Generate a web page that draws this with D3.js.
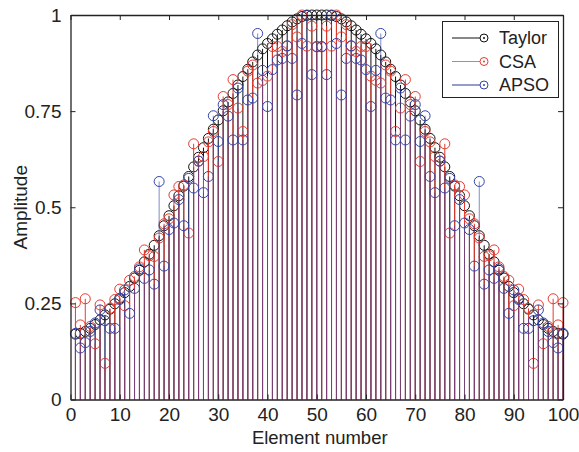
<!DOCTYPE html>
<html>
<head>
<meta charset="utf-8">
<script src="https://cdn.jsdelivr.net/npm/d3@7"></script>
<style>
  html, body { margin: 0; padding: 0; background: #fff; }
  text { font-family: Arial, "Liberation Sans", Helvetica, sans-serif; fill: #222; }
</style>
</head>
<body>
<svg id="chart" width="579" height="452"></svg>
<script>
// ---- data ----
const elements = d3.range(1, 101);
const xTicks = [0, 10, 20, 30, 40, 50, 60, 70, 80, 90, 100];
const yTicks = [0, 0.25, 0.5, 0.75, 1];
const yTickLabels = ["0", "0.25", "0.5", "0.75", "1"];
const seriesNames = ["Taylor", "CSA", "APSO"];

const taylor = [
  0.170,0.172,0.177,0.185,0.195,0.207,0.220,0.235,0.249,0.263,
  0.278,0.294,0.316,0.336,0.358,0.378,0.401,0.426,0.452,0.478,
  0.504,0.530,0.555,0.580,0.605,0.630,0.655,0.679,0.703,0.727,
  0.751,0.774,0.796,0.818,0.840,0.859,0.878,0.896,0.912,0.926,
  0.938,0.950,0.961,0.972,0.982,0.990,0.996,0.999,1.000,1.000,
  1.000,1.000,0.999,0.996,0.990,0.982,0.972,0.961,0.950,0.938,
  0.926,0.912,0.896,0.878,0.859,0.840,0.818,0.796,0.774,0.751,
  0.727,0.703,0.679,0.655,0.630,0.605,0.580,0.555,0.530,0.504,
  0.478,0.452,0.426,0.401,0.378,0.358,0.336,0.316,0.294,0.278,
  0.263,0.249,0.235,0.220,0.207,0.195,0.185,0.177,0.172,0.170
];

const csa = [
  0.252,0.194,0.262,0.190,0.145,0.246,0.094,0.237,0.260,0.287,
  0.244,0.310,0.320,0.345,0.389,0.374,0.372,0.420,0.457,0.470,
  0.532,0.554,0.558,0.433,0.665,0.620,0.632,0.670,0.697,0.619,
  0.788,0.767,0.832,0.758,0.697,0.854,0.870,0.823,0.830,0.841,
  0.918,0.918,0.905,0.919,0.975,0.943,1.000,0.919,0.971,0.917,
  0.917,0.971,0.919,1.000,0.943,0.975,0.919,0.905,0.918,0.918,
  0.841,0.830,0.823,0.870,0.854,0.697,0.758,0.832,0.767,0.788,
  0.619,0.697,0.670,0.632,0.620,0.665,0.433,0.558,0.554,0.532,
  0.470,0.457,0.420,0.372,0.374,0.389,0.345,0.320,0.310,0.244,
  0.287,0.260,0.237,0.094,0.246,0.145,0.190,0.262,0.194,0.252
];

const apso = [
  0.172,0.134,0.148,0.177,0.199,0.233,0.205,0.185,0.185,0.260,
  0.285,0.224,0.289,0.340,0.315,0.337,0.300,0.567,0.347,0.442,
  0.459,0.520,0.452,0.575,0.550,0.620,0.538,0.580,0.738,0.671,
  0.767,0.737,0.675,0.810,0.675,0.779,0.784,0.952,0.856,0.762,
  0.858,0.883,0.887,0.920,0.887,0.792,0.926,1.000,0.845,0.918,
  0.918,0.845,1.000,0.926,0.792,0.887,0.920,0.887,0.883,0.858,
  0.762,0.856,0.952,0.784,0.779,0.675,0.810,0.675,0.737,0.767,
  0.671,0.738,0.580,0.538,0.620,0.550,0.575,0.452,0.520,0.459,
  0.442,0.347,0.567,0.300,0.337,0.315,0.340,0.289,0.224,0.285,
  0.260,0.185,0.185,0.205,0.233,0.199,0.177,0.148,0.134,0.172
];

const colors = { Taylor: "#111111", CSA: "#e53b30", APSO: "#3345a8" };
const legendLineColors = { Taylor: "#111111", CSA: "#f07070", APSO: "#2a3a95" };

// ---- layout ----
const svg = d3.select("#chart");
const L = 70.5, R = 563, T = 15, B = 399.5;
const FS = 19;
const x = d3.scaleLinear().domain([0, 100]).range([L, R]);
const y = d3.scaleLinear().domain([0, 1]).range([B, T]);

const series = [
  { name: "Taylor", values: taylor, stemOpacity: 1 },
  { name: "CSA", values: csa, stemOpacity: 1 },
  { name: "APSO", values: apso, stemOpacity: 0.62 }
];

const plot = svg.append("g");
series.forEach(s => {
  const g = plot.append("g");
  const data = elements.map((e, i) => ({ e, v: s.values[i] }));
  g.selectAll("line").data(data).join("line")
    .attr("x1", d => x(d.e)).attr("x2", d => x(d.e))
    .attr("y1", y(0)).attr("y2", d => y(d.v))
    .attr("stroke", colors[s.name]).attr("stroke-width", 1)
    .attr("stroke-opacity", s.stemOpacity);
  g.selectAll("circle").data(data).join("circle")
    .attr("cx", d => x(d.e)).attr("cy", d => y(d.v)).attr("r", 5)
    .attr("fill", "none").attr("stroke", colors[s.name]).attr("stroke-width", 1);
});

// ---- axes (box with inward ticks) ----
const axisColor = "#222";
const xAxisB = d3.axisBottom(x).tickValues(xTicks).tickSizeInner(-5).tickSizeOuter(0).tickPadding(8);
const xAxisT = d3.axisTop(x).tickValues(xTicks).tickSizeInner(-5).tickSizeOuter(0).tickFormat("");
const yAxisL = d3.axisLeft(y).tickValues(yTicks).tickSizeInner(-5).tickSizeOuter(0).tickPadding(9)
  .tickFormat((d, i) => yTickLabels[i]);
const yAxisR = d3.axisRight(y).tickValues(yTicks).tickSizeInner(-5).tickSizeOuter(0).tickFormat("");

function style(g) {
  g.select(".domain").attr("stroke", axisColor).attr("stroke-width", 1.3);
  g.selectAll(".tick line").attr("stroke", axisColor).attr("stroke-width", 1);
  g.selectAll(".tick text").attr("font-size", FS).attr("fill", "#222")
    .attr("font-family", "Arial, 'Liberation Sans', sans-serif");
}
svg.append("g").attr("transform", `translate(0,${B})`).call(xAxisB).call(style);
svg.append("g").attr("transform", `translate(0,${T})`).call(xAxisT).call(style);
svg.append("g").attr("transform", `translate(${L},0)`).call(yAxisL).call(style);
svg.append("g").attr("transform", `translate(${R},0)`).call(yAxisR).call(style);

// axis titles
svg.append("text").attr("x", (L + R) / 2 + 3).attr("y", 444)
  .attr("text-anchor", "middle").attr("font-size", 18.5).text("Element number");
svg.append("text").attr("transform", `translate(27,${(T + B) / 2}) rotate(-90)`)
  .attr("text-anchor", "middle").attr("font-size", FS).text("Amplitude");

// ---- legend ----
const lg = svg.append("g");
lg.append("rect").attr("x", 442.5).attr("y", 21.5).attr("width", 116).attr("height", 76)
  .attr("fill", "#fff").attr("stroke", "#222").attr("stroke-width", 1);
seriesNames.forEach((name, i) => {
  const yy = 38 + i * 23.5;
  lg.append("line").attr("x1", 452).attr("x2", 484).attr("y1", yy).attr("y2", yy)
    .attr("stroke", legendLineColors[name]).attr("stroke-width", 1);
  lg.append("circle").attr("cx", 484).attr("cy", yy).attr("r", 4)
    .attr("fill", "#fff").attr("stroke", colors[name]).attr("stroke-width", 1);
  lg.append("circle").attr("cx", 484).attr("cy", yy).attr("r", 1)
    .attr("fill", colors[name]);
  lg.append("text").attr("x", 499).attr("y", yy + 6).attr("font-size", 18).text(name);
});
</script>
</body>
</html>
